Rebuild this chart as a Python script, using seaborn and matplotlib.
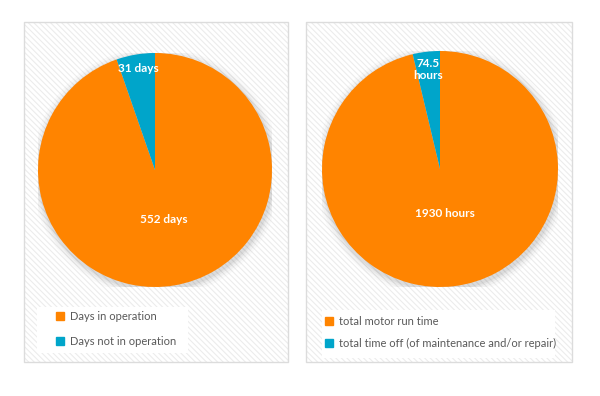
import matplotlib
matplotlib.use("Agg")
import matplotlib.pyplot as plt
import matplotlib.patches as mpatches
from matplotlib.lines import Line2D
import numpy as np
import seaborn as sns

# data
days_labels = ["Days in operation", "Days not in operation"]
days_values = [552, 31]
days_text = ["552 days", "31 days"]

hours_labels = ["total motor run time", "total time off (of maintenance and/or repair)"]
hours_values = [1930, 74.5]
hours_text = ["1930 hours", "74.5\nhours"]

colors = ["#FF8400", "#00A5CA"]

sns.set_theme(style="white")
plt.rcParams['font.family'] = ['Lato', 'DejaVu Sans']
plt.rcParams['hatch.linewidth'] = 0.8

fig = plt.figure(figsize=(6, 3.96), dpi=100)
H = 396.0


def fig_rect(x0, y0, x1, y1, **kw):
	# pixel box (top-left origin) -> figure fraction rectangle
	return mpatches.Rectangle((x0/600, 1 - y1/H), (x1 - x0)/600, (y1 - y0)/H,
		transform=fig.transFigure, **kw)


def panel(x0, x1):
	bg = fig_rect(x0, 22, x1, 362, facecolor="white", edgecolor="#ececec",
		hatch='\\\\\\\\\\\\', linewidth=0, zorder=-3)
	border = fig_rect(x0, 22, x1, 362, fill=False, edgecolor="#dcdcdc",
		linewidth=1, zorder=-1)
	fig.patches.extend([bg, border])


def draw_pie(rect, values, texts, dists, labels, box, leg_xy, spacing):
	fig.patches.append(fig_rect(*box, facecolor="white", linewidth=0, zorder=-2))
	ax = fig.add_axes(rect)
	# soft shadow
	for r, a in [(1.07, 0.02), (1.05, 0.03), (1.03, 0.04), (1.015, 0.05)]:
		ax.add_patch(mpatches.Circle((0.01, -0.02), r, color="black", alpha=a, lw=0))
	wedges, _ = ax.pie(values, colors=colors, startangle=90, counterclock=False,
		radius=1, wedgeprops=dict(linewidth=0))
	ax.set_xlim(-1.0, 1.0)
	ax.set_ylim(-1.0, 1.0)
	ax.set_aspect("equal")
	ax.axis("off")
	for wdg, txt, d in zip(wedges, texts, dists):
		ang = np.deg2rad((wdg.theta1 + wdg.theta2) / 2)
		ax.text(d * np.cos(ang), d * np.sin(ang), txt, ha="center", va="center",
			color="white", fontsize=8.5, fontweight="bold", linespacing=1.1)
	handles = [Line2D([], [], marker="s", color=c, linestyle="none", markersize=5.5)
		for c in colors]
	ax.legend(handles, labels, loc="center left",
		bbox_to_anchor=(leg_xy[0]/600, 1 - leg_xy[1]/H),
		bbox_transform=fig.transFigure, frameon=False, fontsize=8, labelspacing=spacing,
		handletextpad=0.4, handlelength=1.0, borderpad=0, borderaxespad=0,
		labelcolor="#595959")
	return ax


panel(24, 288)
panel(306, 572)

draw_pie([38/600, 109/H, 234/600, 234/H], days_values, days_text, [0.43, 0.88],
	days_labels, (37, 307, 188, 353), (54, 329), 1.22)
draw_pie([322/600, 109/H, 236/600, 236/H], hours_values, hours_text, [0.38, 0.85],
	hours_labels, (322, 310, 555, 358), (323, 332.5), 0.95)

fig.savefig("out.png", dpi=100)
